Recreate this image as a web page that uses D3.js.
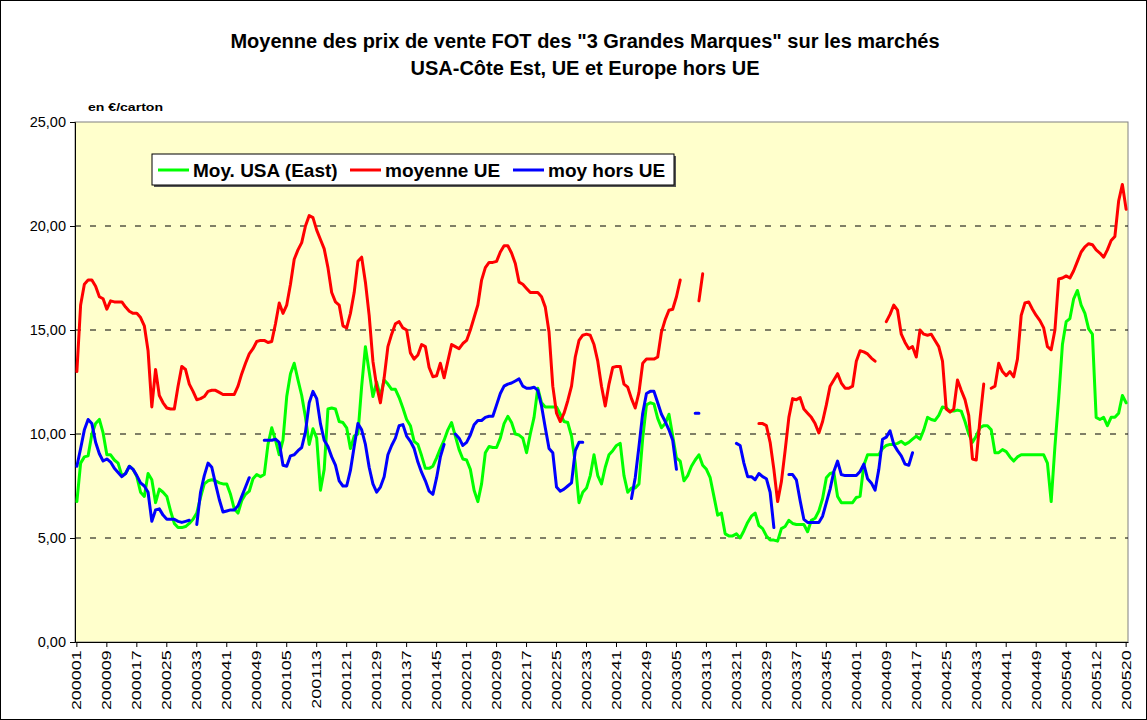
<!DOCTYPE html>
<html>
<head>
<meta charset="utf-8">
<script src="https://cdn.jsdelivr.net/npm/d3@7"></script>
<style>
  body { margin: 0; background: #fff; }
  text { font-family: "Liberation Sans", Arial, sans-serif; }
</style>
</head>
<body>
<div id="graph"></div>
<script>
// category axis: year + week number (200001 ... 200520)
var years = [2000, 2001, 2002, 2003, 2004, 2005];
var weeksInYear = [52, 52, 52, 52, 53, 20];

var tickLabels = ["200001", "200009", "200017", "200025", "200033", "200041", "200049",
  "200105", "200113", "200121", "200129", "200137", "200145",
  "200201", "200209", "200217", "200225", "200233", "200241", "200249",
  "200305", "200313", "200321", "200329", "200337", "200345",
  "200401", "200409", "200417", "200425", "200433", "200441", "200449",
  "200504", "200512", "200520"];

var yTicks = [0, 5, 10, 15, 20, 25];

// Moy. USA (East), en euros/carton
var moyUSA = [
  6.75, 8.6, 8.9, 8.95, 10.0, 10.5, 10.7, 10.05, 9.0, 9.0,
  8.75, 8.6, 8.0, 8.1, 8.45, 8.3, 7.95, 7.2, 7.0, 8.1,
  7.8, 6.7, 7.35, 7.2, 7.0, 6.3, 5.7, 5.5, 5.5, 5.55,
  5.7, 5.9, 6.2, 6.95, 7.6, 7.75, 7.8, 7.75, 7.65, 7.6,
  7.6, 7.1, 6.4, 6.2, 6.8, 7.1, 7.25, 7.85, 8.05, 7.95,
  8.05, 9.5, 10.3, 9.7, 9.0, 9.7, 11.8, 12.9, 13.4, 12.6,
  11.85, 10.8, 9.5, 10.25, 9.8, 7.3, 8.3, 11.2, 11.25, 11.2,
  10.6, 10.55, 10.3, 9.3, 9.9, 10.0, 12.3, 14.2, 13.0, 11.8,
  12.5, 11.8, 12.6, 12.4, 12.15, 12.15, 11.75, 11.25, 10.7, 10.4,
  9.65, 9.5, 8.95, 8.35, 8.35, 8.45, 8.85, 9.3, 9.7, 10.2,
  10.55, 9.9, 9.25, 8.8, 8.75, 8.3, 7.3, 6.75, 7.6, 9.1,
  9.4, 9.35, 9.35, 9.8, 10.5, 10.85, 10.55, 10.0, 9.95, 9.8,
  9.1, 10.0, 10.8, 12.2, 11.5, 11.3, 11.3, 11.3, 11.3, 10.95,
  10.6, 10.55, 9.9, 8.6, 6.7, 7.2, 7.4, 8.0, 9.0, 8.0,
  7.6, 8.4, 9.0, 9.2, 9.45, 9.55, 8.0, 7.2, 7.4, 7.4,
  7.6, 9.8, 11.4, 11.5, 11.45, 10.75, 10.3, 10.5, 10.95, 9.9,
  8.85, 8.7, 7.75, 8.0, 8.45, 8.75, 9.0, 8.5, 8.3, 7.9,
  7.0, 6.1, 6.2, 5.2, 5.1, 5.1, 5.2, 5.0, 5.35, 5.75,
  6.05, 6.2, 5.6, 5.45, 5.1, 4.9, 4.9, 4.85, 5.45, 5.55,
  5.85, 5.7, 5.65, 5.65, 5.65, 5.3, 5.85, 5.95, 6.3, 6.9,
  7.9, 8.1, 8.15, 7.0, 6.7, 6.7, 6.7, 6.7, 6.95, 7.0,
  8.5, 9.0, 9.0, 9.0, 9.0, 9.3, 9.45, 9.5, 9.5, 9.55,
  9.65, 9.5, 9.6, 9.75, 9.9, 9.75, 10.2, 10.8, 10.7, 10.65,
  10.9, 11.3, 11.25, 11.1, 11.1, 11.15, 11.1, 10.6, 10.0, 9.6,
  9.9, 10.3, 10.4, 10.4, 10.2, 9.1, 9.1, 9.25, 9.15, 8.9,
  8.7, 8.9, 9.0, 9.0, 9.0, 9.0, 9.0, 9.0, 9.0, 8.6,
  6.75, 9.4, 11.7, 14.3, 15.4, 15.55, 16.5, 16.9, 16.2, 15.8,
  15.05, 14.8, 10.8, 10.7, 10.8, 10.4, 10.8, 10.8, 11.0, 11.85,
  11.5
];

// moyenne UE
var moyUE = [
  13.0, 16.2, 17.2, 17.4, 17.4, 17.1, 16.6, 16.5, 16.0, 16.4,
  16.35, 16.35, 16.35, 16.1, 15.9, 15.8, 15.8, 15.6, 15.2, 14.0,
  11.3, 13.1, 11.85, 11.5, 11.25, 11.2, 11.2, 12.3, 13.25, 13.1,
  12.4, 12.05, 11.65, 11.7, 11.8, 12.05, 12.1, 12.1, 12.0, 11.9,
  11.9, 11.9, 11.9, 12.3, 12.9, 13.4, 13.85, 14.1, 14.45, 14.5,
  14.5, 14.4, 14.45, 15.3, 16.3, 15.8, 16.2, 17.2, 18.4, 18.85,
  19.2, 20.0, 20.5, 20.4, 19.8, 19.35, 18.9, 18.0, 16.8, 16.35,
  16.2, 15.2, 15.1, 15.8, 16.8, 18.3, 18.5, 17.3, 15.7, 13.5,
  12.3, 11.5, 12.7, 14.2, 14.8, 15.3, 15.4, 15.1, 15.0, 13.9,
  13.6, 13.8, 14.3, 14.2, 13.2, 12.75, 12.8, 13.4, 12.7, 13.5,
  14.3, 14.2, 14.1, 14.35, 14.5, 15.0, 15.6, 16.2, 17.4, 18.0,
  18.25, 18.25, 18.3, 18.75, 19.05, 19.05, 18.7, 18.2, 17.3, 17.2,
  17.0, 16.8, 16.8, 16.8, 16.6, 16.1, 14.9, 12.3, 11.0, 10.6,
  11.0, 11.6, 12.3, 13.7, 14.5, 14.75, 14.8, 14.75, 14.3, 13.5,
  12.3, 11.35, 12.4, 13.2, 13.25, 13.25, 12.4, 12.25, 11.7, 11.25,
  12.0, 13.4, 13.6, 13.6, 13.6, 13.7, 14.9, 15.5, 15.95, 16.0,
  16.6, 17.4, null, null, null, null, 16.4, 17.7, null, null,
  null, null, null, null, null, null, null, null, null, null,
  null, null, 10.5, 10.5, 10.4, 9.6, 8.3, 6.75, 7.7, 9.2,
  10.8, 11.7, 11.65, 11.75, 11.2, 11.0, 10.8, 10.5, 10.05, 10.6,
  11.4, 12.3, 12.6, 12.9, 12.45, 12.2, 12.2, 12.3, 13.5, 14.0,
  13.95, 13.85, 13.65, 13.5, null, null, 15.4, 15.75, 16.2, 15.95,
  14.8, 14.4, 14.1, 14.2, 13.7, 15.0, 14.8, 14.75, 14.8, 14.5,
  14.2, 13.5, 11.2, 11.05, 11.2, 12.6, 12.1, 11.65, 10.9, 8.8,
  8.75, 10.7, 12.4, null, 12.2, 12.3, 13.4, 13.0, 12.8, 13.0,
  12.75, 13.6, 15.7, 16.3, 16.35, 16.0, 15.7, 15.45, 15.1, 14.2,
  14.05, 15.0, 17.45, 17.5, 17.6, 17.5, 17.85, 18.3, 18.75, 19.0,
  19.15, 19.1, 18.85, 18.7, 18.5, 18.85, 19.3, 19.5, 21.2, 22.0,
  20.8
];

// moy hors UE (stops after 200412)
var moyHorsUE = [
  8.45, 9.3, 10.2, 10.7, 10.5, 9.6, 9.05, 8.7, 8.8, 8.65,
  8.35, 8.15, 7.95, 8.1, 8.45, 8.3, 8.0, 7.65, 7.5, 7.2,
  5.8, 6.35, 6.4, 6.1, 5.9, 5.9, 5.9, 5.8, 5.75, 5.8,
  5.85, null, 5.65, 7.2, 8.0, 8.6, 8.4, 7.6, 6.85, 6.25,
  6.3, 6.35, 6.35, 6.55, 7.0, 7.45, 7.9, null, null, null,
  9.7, 9.7, 9.7, 9.75, 9.6, 8.5, 8.45, 8.95, 9.0, 9.2,
  9.35, 10.1, 11.5, 12.05, 11.7, 10.5, 9.7, 9.4, 8.9, 8.5,
  7.75, 7.5, 7.5, 8.25, 9.4, 10.5, 10.2, 9.5, 8.4, 7.6,
  7.2, 7.45, 7.95, 9.0, 9.45, 9.8, 10.4, 10.45, 9.9, 9.65,
  9.3, 8.65, 8.15, 7.75, 7.25, 7.1, 7.9, 8.9, 9.5, null,
  null, 10.0, 9.8, 9.45, 9.6, 9.95, 10.45, 10.65, 10.65, 10.8,
  10.85, 10.85, 11.4, 11.95, 12.3, 12.4, 12.45, 12.55, 12.65, 12.3,
  12.2, 12.2, 12.25, 12.1, 11.35, 10.3, 9.3, 9.1, 7.45, 7.25,
  7.35, 7.5, 7.65, 9.2, 9.6, 9.6, null, null, null, null,
  null, null, null, null, null, null, null, null, 6.9, 7.9,
  9.4, 11.0, 11.95, 12.05, 12.05, 11.5, 10.95, 10.6, 10.2, 9.7,
  8.3, null, null, null, null, 11.0, 11.0, null, null, null,
  null, null, null, null, null, null, 9.55, 9.45, 8.6, 7.95,
  7.95, 7.8, 8.1, 7.95, 7.85, 7.2, 5.5, null, null, null,
  8.05, 8.05, 7.8, 6.8, 5.9, 5.75, 5.75, 5.75, 5.75, 6.05,
  6.7, 7.35, 8.2, 8.7, 8.05, 8.0, 8.0, 8.0, 8.0, 8.2,
  8.55, 7.85, 7.65, 7.3, 8.3, 9.75, 9.85, 10.15, 9.5, 9.2,
  8.95, 8.55, 8.5, 9.1
];

var seriesNames = ["Moy. USA (East)", "moyenne UE", "moy hors UE"];
var seriesColors = ["#00ff00", "#ff0000", "#0000ff"];

// build the week categories
var categories = [];
years.forEach(function (yr, k) {
  for (var w = 1; w <= weeksInYear[k]; w++) categories.push(String(yr * 100 + w));
});

var W = 1147, H = 720;
var plot = {left: 75, top: 122, right: 1128, bottom: 642};

var svg = d3.select("#graph")
  .append("svg")
    .attr("width", W)
    .attr("height", H);

svg.append("rect")
  .attr("x", 0.5).attr("y", 0.5)
  .attr("width", W - 1).attr("height", H - 1)
  .attr("fill", "#fff").attr("stroke", "#000");

// title
var title = svg.append("text")
  .attr("text-anchor", "middle")
  .attr("font-weight", "bold")
  .attr("font-size", 20);
title.append("tspan").attr("x", 585).attr("y", 48)
  .text("Moyenne des prix de vente FOT des \"3 Grandes Marques\" sur les marchés");
title.append("tspan").attr("x", 585).attr("y", 75)
  .text("USA-Côte Est, UE et Europe hors UE");

svg.append("text")
  .attr("x", 88).attr("y", 111)
  .attr("font-size", 11).attr("font-weight", "bold")
  .attr("textLength", 75).attr("lengthAdjust", "spacingAndGlyphs")
  .text("en €/carton");

var x = d3.scaleBand()
  .domain(categories)
  .range([plot.left, plot.right]);

var y = d3.scaleLinear()
  .domain([0, 25])
  .range([plot.bottom, plot.top]);

var cx = function (i) { return x(categories[i]) + x.bandwidth() / 2; };

// plot area
svg.append("rect")
  .attr("x", plot.left).attr("y", plot.top)
  .attr("width", plot.right - plot.left).attr("height", plot.bottom - plot.top)
  .attr("fill", "#ffffcc").attr("stroke", "#808080");

// dashed gridlines
svg.append("g")
  .selectAll("line")
  .data(yTicks.filter(function (d) { return d > 0 && d < 25; }))
  .join("line")
    .attr("x1", plot.left).attr("x2", plot.right)
    .attr("y1", function (d) { return y(d); })
    .attr("y2", function (d) { return y(d); })
    .attr("stroke", "#000")
    .attr("stroke-dasharray", "6,9");

// Y axis
var yAxis = svg.append("g")
  .attr("transform", "translate(" + plot.left + ",0)")
  .call(d3.axisLeft(y)
    .tickValues(yTicks)
    .tickSize(5)
    .tickPadding(4)
    .tickFormat(function (d) { return d3.format(".2f")(d).replace(".", ","); }));
yAxis.selectAll("text").attr("font-size", 14.5).attr("font-family", "Liberation Sans, Arial, sans-serif");

// X axis
var xAxis = svg.append("g")
  .attr("transform", "translate(0," + plot.bottom + ")")
  .call(d3.axisBottom(x)
    .tickValues(tickLabels)
    .tickSize(5)
    .tickSizeOuter(0));
xAxis.selectAll("text")
  .attr("font-size", 13)
  .attr("font-family", "Liberation Sans, Arial, sans-serif")
  .attr("text-anchor", "end")
  .attr("transform", "rotate(-90) scale(1.38,1)")
  .attr("x", -6)
  .attr("y", 0)
  .attr("dy", "0.35em");

// lines
var line = d3.line()
  .defined(function (d) { return d != null; })
  .x(function (d, i) { return cx(i); })
  .y(function (d) { return y(d); });

[moyUSA, moyUE, moyHorsUE].forEach(function (s, k) {
  svg.append("path")
    .datum(s)
    .attr("fill", "none")
    .attr("stroke", seriesColors[k])
    .attr("stroke-width", 3)
    .attr("stroke-linejoin", "round")
    .attr("stroke-linecap", "round")
    .attr("d", line);
});

// legend
var legX = 152, legY = 154, legW = 522, legH = 31;
svg.append("rect")
  .attr("x", legX + 2).attr("y", legY + 2)
  .attr("width", legW).attr("height", legH)
  .attr("fill", "#555");
svg.append("rect")
  .attr("x", legX).attr("y", legY)
  .attr("width", legW).attr("height", legH)
  .attr("fill", "#fff").attr("stroke", "#000");

var legPos = [158, 350, 513];
seriesNames.forEach(function (name, k) {
  svg.append("line")
    .attr("x1", legPos[k]).attr("x2", legPos[k] + 31)
    .attr("y1", legY + 16).attr("y2", legY + 16)
    .attr("stroke", seriesColors[k]).attr("stroke-width", 3);
  svg.append("text")
    .attr("x", legPos[k] + 35).attr("y", legY + 23)
    .attr("font-size", 19).attr("font-weight", "bold")
    .text(name);
});
</script>
</body>
</html>
